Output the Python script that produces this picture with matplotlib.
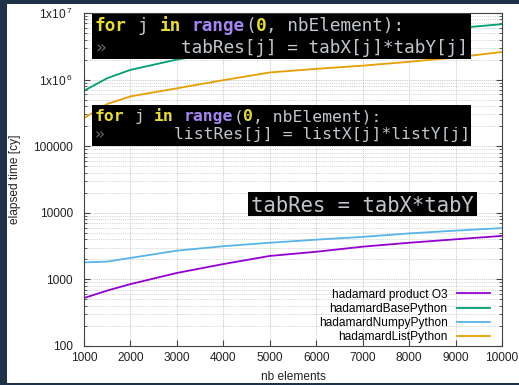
import matplotlib
matplotlib.use("Agg")
import matplotlib.pyplot as plt
from matplotlib.patches import Rectangle
from matplotlib.ticker import FixedLocator, LogLocator, NullFormatter

plt.rcParams['font.family'] = ['Liberation Sans', 'DejaVu Sans']
plt.rcParams['mathtext.fontset'] = 'custom'
plt.rcParams['mathtext.rm'] = 'Liberation Sans'

W, H = 519, 385

nb_elements = [1000, 1500, 2000, 3000, 4000, 5000, 6000, 7000, 8000, 9000, 10000]
hadamard_o3 = [525, 680, 850, 1250, 1700, 2250, 2600, 3100, 3550, 4000, 4500]
hadamard_base = [680000, 1050000, 1400000, 2000000, 2600000, 3200000, 3900000,
                 4600000, 5300000, 5900000, 6800000]
hadamard_numpy = [1800, 1850, 2100, 2700, 3150, 3550, 3950, 4350, 4900, 5400, 5900]
hadamard_list = [265000, 430000, 560000, 740000, 980000, 1280000, 1450000,
                 1620000, 1850000, 2150000, 2600000]

series = [
    ("hadamard product O3", hadamard_o3, "#9400d3"),
    ("hadamardBasePython", hadamard_base, "#009e73"),
    ("hadamardNumpyPython", hadamard_numpy, "#56b4e9"),
    ("hadamardListPython", hadamard_list, "#e69f00"),
]

x_ticks = [1000, 2000, 3000, 4000, 5000, 6000, 7000, 8000, 9000, 10000]
y_ticks = [100, 1000, 10000, 100000, 1000000, 10000000]
y_tick_labels = ["100", "1000", "10000", "100000",
                 r"$\mathregular{1x10^{\,6}}$", r"$\mathregular{1x10^{\,7}}$"]


def fx(x):
    return x / W


def fy(y):
    return 1 - y / H


fig = plt.figure(figsize=(W / 100, H / 100), dpi=100, facecolor="white")
ax = fig.add_axes([fx(84), fy(346), (502 - 84) / W, (346 - 13) / H])

for label, vals, color in series:
    ax.plot(nb_elements, vals, color=color, lw=1.3, label=label)

ax.set_yscale("log")
ax.set_xlim(1000, 10000)
ax.set_ylim(100, 1e7)
ax.xaxis.set_major_locator(FixedLocator(x_ticks))
ax.yaxis.set_major_locator(FixedLocator(y_ticks))
ax.set_yticklabels(y_tick_labels)
ax.yaxis.set_minor_locator(LogLocator(base=10, subs=range(2, 10)))
ax.yaxis.set_minor_formatter(NullFormatter())
ax.tick_params(which="both", direction="in", top=True, right=True,
               labelsize=8.6, labelcolor="#222222", color="#444444")
ax.tick_params(axis="x", which="major", length=4, pad=4)
ax.tick_params(axis="y", which="major", length=4, pad=8)
ax.tick_params(axis="y", which="minor", length=2)
ax.grid(True, which="major", color="#b8b8b8", lw=0.6, linestyle=(0, (1, 1.2)))
ax.grid(True, which="minor", axis="y", color="#c8c8c8", lw=0.6, linestyle=(0, (1, 1.2)))
for s in ax.spines.values():
    s.set_color("#444444")
    s.set_linewidth(0.8)

ax.set_xlabel("nb elements", fontsize=8.6, color="#222222", labelpad=5.5)
ax.set_ylabel("elapsed time [cy]", fontsize=8.6, color="#222222")
ax.yaxis.set_label_coords((21 - 84) / 418, 0.5)

ax.legend(loc="lower right", bbox_to_anchor=((490 - 84) / 418, (346 - 343) / 333),
          frameon=False, markerfirst=False, fontsize=8.6, handlelength=2.8,
          handletextpad=0.75, labelspacing=0.18, borderpad=0, borderaxespad=0)

# code snippets drawn over the chart
KW = "#e8dc2c"
FN = "#a385f2"
TX = "#c0c6cc"
DIM = "#6a6a6a"
MONO = "DejaVu Sans Mono"


def code_box(x0, y0, x1, y1, tx, lines, size_px):
    fig.add_artist(Rectangle((fx(x0), fy(y1)), (x1 - x0) / W, (y1 - y0) / H,
                             transform=fig.transFigure, facecolor="black",
                             edgecolor="none", zorder=2.5))
    cw = 0.602 * size_px
    for base, tokens in lines:
        for text, color, bold, col in tokens:
            fig.text(fx(tx + col * cw), fy(base), text, color=color,
                     fontsize=size_px * 0.72, family=MONO, va="baseline",
                     fontweight="bold" if bold else "normal", zorder=3)


def loop_line(rest):
    return [("for", KW, True, 0), ("j", TX, False, 4), ("in", KW, True, 6),
            ("range", FN, True, 9), ("(", TX, False, 14), ("0", KW, True, 15),
            (", nbElement):", TX, False, 16)], [("»", DIM, False, 0), (rest, TX, False, 8)]


l1, l2 = loop_line("tabRes[j] = tabX[j]*tabY[j]")
code_box(92, 14, 471, 59, 95, [(31, l1), (53, l2)], 17.8)
l1, l2 = loop_line("listRes[j] = listX[j]*listY[j]")
code_box(92, 105, 471, 146, 95, [(121, l1), (139, l2)], 16.4)
code_box(248, 192, 477, 216, 251, [(212, [("tabRes = tabX*tabY", TX, False, 0)])], 20.6)

# dark page border
BORDER = "#1d3149"
for r in [(0, 0, 7, H), (0, 0, W, 4), (0, 383, W, 2)]:
    fig.add_artist(Rectangle((fx(r[0]), fy(r[1] + r[3])), r[2] / W, r[3] / H,
                             transform=fig.transFigure, facecolor=BORDER,
                             edgecolor="none", zorder=10))

fig.savefig("out.png", dpi=100, facecolor="white")
